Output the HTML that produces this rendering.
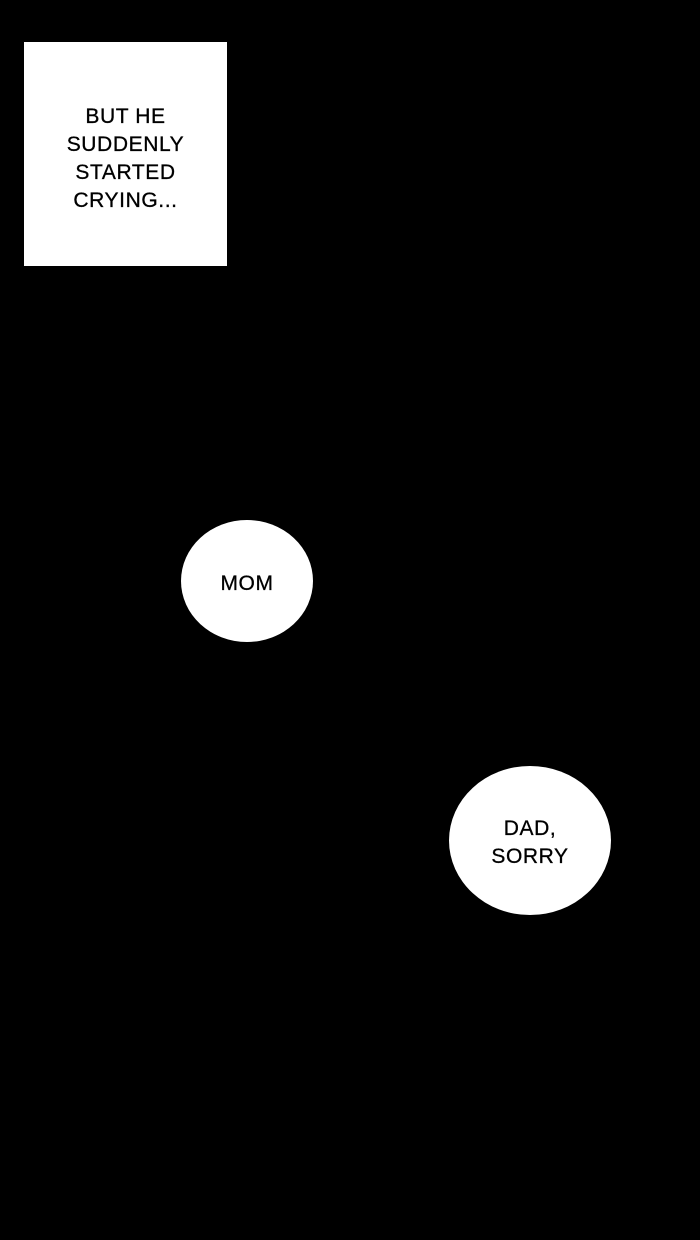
<!DOCTYPE html>
<html><head><style>
html,body{margin:0;padding:0;background:#000;}
body{width:700px;height:1240px;position:relative;overflow:hidden;font-family:"Liberation Sans","DejaVu Sans",sans-serif;color:#000;}
.box{position:absolute;left:24px;top:42px;width:203px;height:224px;background:#fff;}
.t{position:absolute;text-align:center;font-size:21px;line-height:28px;letter-spacing:0.6px;-webkit-text-stroke:0.3px #000;}
.e{position:absolute;background:#fff;border-radius:50%;}
</style></head><body>
<div class="box"></div>
<div class="t" style="left:24px;top:103px;width:203px;">BUT HE<br>SUDDENLY<br>STARTED<br>CRYING...</div>
<div class="e" style="left:181px;top:520px;width:132px;height:122px;"></div>
<div class="t" style="left:181px;top:570px;width:132px;">MOM</div>
<div class="e" style="left:449px;top:766px;width:162px;height:149px;"></div>
<div class="t" style="left:449px;top:815px;width:162px;">DAD,<br>SORRY</div>
</body></html>
